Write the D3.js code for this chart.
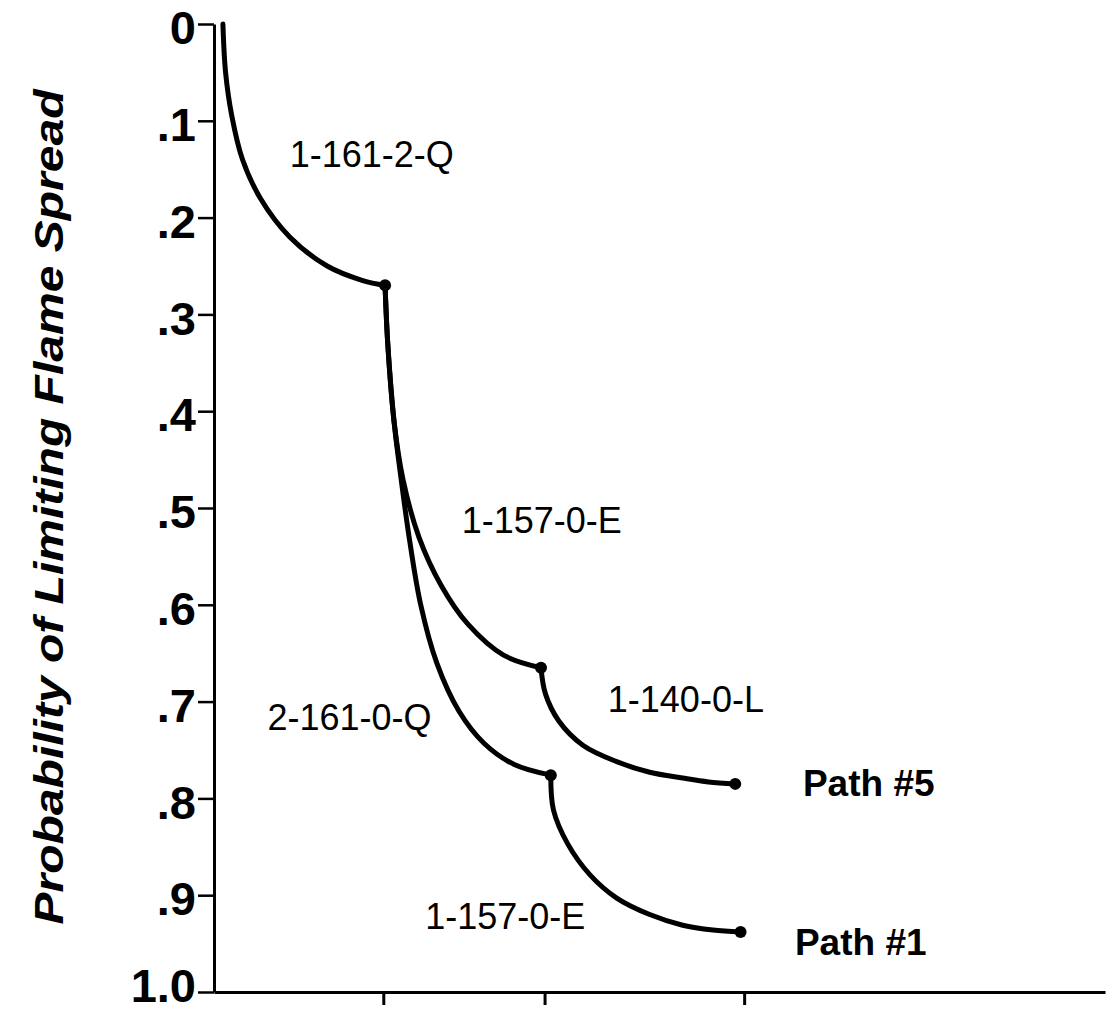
<!DOCTYPE html>
<html><head><meta charset="utf-8">
<script src="https://cdn.jsdelivr.net/npm/d3@7"></script>
<style>body{margin:0;background:#fff}svg{display:block}</style>
</head><body>
<script>
// ---- data (x: stage position, p: probability of limiting flame spread) ----
const seg1_x = [0.10, 0.13, 0.20, 0.32, 0.52, 0.85, 1.27, 1.67, 1.92];
const seg1_p = [0.000, 0.050, 0.095, 0.140, 0.180, 0.220, 0.250, 0.265, 0.270];
const segUpper_x = [1.92, 1.95, 2.02, 2.12, 2.30, 2.55, 2.85, 3.25, 3.67];
const segUpper_p = [0.270, 0.330, 0.410, 0.470, 0.530, 0.580, 0.620, 0.652, 0.665];
const segLower_x = [1.92, 1.95, 2.02, 2.10, 2.19, 2.32, 2.50, 2.75, 3.03, 3.37, 3.78];
const segLower_p = [0.270, 0.330, 0.410, 0.470, 0.530, 0.600, 0.660, 0.710, 0.743, 0.765, 0.776];
const seg140_x = [3.67, 3.72, 3.87, 4.14, 4.52, 4.89, 5.26, 5.55, 5.85];
const seg140_p = [0.665, 0.692, 0.720, 0.745, 0.762, 0.773, 0.779, 0.783, 0.785];
const seg157_x = [3.78, 3.81, 3.97, 4.22, 4.52, 4.89, 5.26, 5.60, 5.91];
const seg157_p = [0.776, 0.812, 0.847, 0.879, 0.903, 0.920, 0.931, 0.936, 0.938];
const node_x = [1.92, 3.67, 3.78, 5.85, 5.91];
const node_p = [0.270, 0.665, 0.776, 0.785, 0.938];
const yTicks = [0, 0.1, 0.2, 0.3, 0.4, 0.5, 0.6, 0.7, 0.8, 0.9, 1.0];
const yTickLabels = ["0", ".1", ".2", ".3", ".4", ".5", ".6", ".7", ".8", ".9", "1.0"];
const xTicks = [1.90, 3.71, 5.95];
const segLabels = ["1-161-2-Q", "1-157-0-E", "2-161-0-Q", "1-140-0-L", "1-157-0-E"];
const segLabel_x = [0.85, 2.78, 0.60, 4.42, 2.37];
const segLabel_p = [0.138, 0.516, 0.719, 0.701, 0.925];
const pathLabels = ["Path #5", "Path #1"];
const pathLabel_x = [6.61, 6.52];
const pathLabel_p = [0.787, 0.952];
const yTitle = "Probability of Limiting Flame Spread";

const W = 1111, H = 1012;
const svg = d3.select("body").append("svg").attr("width", W).attr("height", H);
const x = d3.scaleLinear().domain([0, 10]).range([214, 1105]);
const y = d3.scaleLinear().domain([0, 1]).range([24, 992]);

// axes
const yAxis = d3.axisLeft(y).tickValues(yTicks)
  .tickFormat((d, i) => yTickLabels[i]).tickSize(16).tickSizeOuter(0).tickPadding(2);
const gy = svg.append("g").attr("transform", `translate(${x(0)},0)`).call(yAxis);
gy.select(".domain").attr("stroke-width", 3);
gy.selectAll(".tick line").attr("stroke-width", 2.5);
gy.selectAll(".tick text").attr("font-family", "Liberation Sans, Arial, sans-serif")
  .attr("font-weight", "bold").attr("font-size", 47).attr("fill", "#000")
  .attr("dy", (d, i) => i === yTicks.length - 1 ? "0.2em" : "0.42em");

const xAxis = d3.axisBottom(x).tickValues(xTicks).tickFormat("").tickSize(13).tickSizeOuter(0);
const gx = svg.append("g").attr("transform", `translate(0,${y(1)})`).call(xAxis);
gx.select(".domain").attr("stroke-width", 3);
gx.selectAll(".tick line").attr("stroke-width", 3);

// y title
svg.append("text")
  .attr("transform", `translate(63,${507}) rotate(-90)`)
  .attr("text-anchor", "middle")
  .attr("font-family", "Liberation Sans, Arial, sans-serif")
  .attr("font-weight", "bold").attr("font-style", "italic")
  .attr("font-size", 40)
  .attr("textLength", 835).attr("lengthAdjust", "spacingAndGlyphs")
  .text(yTitle);

// curves
const line = d3.line().x(d => x(d[0])).y(d => y(d[1])).curve(d3.curveCatmullRom.alpha(0.5));
const segs = [[seg1_x, seg1_p], [segUpper_x, segUpper_p], [segLower_x, segLower_p], [seg140_x, seg140_p], [seg157_x, seg157_p]];
segs.forEach(([xs, ps]) => {
  svg.append("path").datum(xs.map((v, i) => [v, ps[i]]))
    .attr("d", line).attr("fill", "none").attr("stroke", "#000").attr("stroke-width", 5)
    .attr("stroke-linecap", "round");
});

// nodes
svg.selectAll("circle.node").data(node_x.map((v, i) => [v, node_p[i]])).enter()
  .append("circle").attr("class", "node")
  .attr("cx", d => x(d[0])).attr("cy", d => y(d[1])).attr("r", 6).attr("fill", "#000");

// segment labels
svg.selectAll("text.seg").data(segLabels).enter().append("text").attr("class", "seg")
  .attr("x", (d, i) => x(segLabel_x[i])).attr("y", (d, i) => y(segLabel_p[i]))
  .attr("font-family", "Liberation Sans, Arial, sans-serif").attr("font-size", 36)
  .attr("dominant-baseline", "middle")
  .text(d => d);

// path labels
svg.selectAll("text.pl").data(pathLabels).enter().append("text").attr("class", "pl")
  .attr("x", (d, i) => x(pathLabel_x[i])).attr("y", (d, i) => y(pathLabel_p[i]))
  .attr("font-family", "Liberation Sans, Arial, sans-serif").attr("font-size", 37)
  .attr("font-weight", "bold").attr("dominant-baseline", "middle")
  .text(d => d);
</script>
</body></html>
